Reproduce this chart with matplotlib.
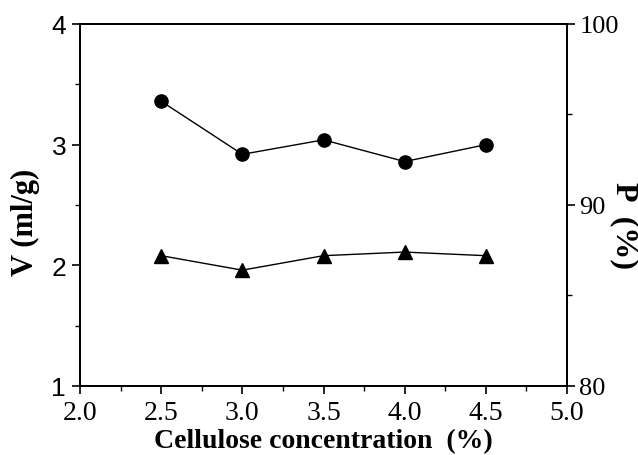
import matplotlib
matplotlib.use("Agg")
import matplotlib.pyplot as plt
from matplotlib.ticker import MultipleLocator

conc = [2.5, 3.0, 3.5, 4.0, 4.5]
V = [3.36, 2.92, 3.04, 2.86, 3.00]
P = [87.2, 86.4, 87.2, 87.4, 87.2]

x_ticks = [2.0, 2.5, 3.0, 3.5, 4.0, 4.5, 5.0]
x_labels = ["2.0", "2.5", "3.0", "3.5", "4.0", "4.5", "5.0"]
v_ticks = [1, 2, 3, 4]
p_ticks = [80, 90, 100]

serif = "Liberation Serif"
sans = "Liberation Sans"

fig = plt.figure(figsize=(6.38, 4.56), dpi=100)
ax = fig.add_axes([80/638, 1-387/456, (567-80)/638, (387-25)/456])
ax2 = ax.twinx()

ax.plot(conc, V, color="black", lw=1.0, marker="o", ms=9.5, zorder=3)
ax2.plot(conc, P, color="black", lw=1.0, marker="^", ms=10.5, zorder=3)

ax.set_xlim(2.0, 5.0)
ax.set_ylim(1, 4)
ax2.set_ylim(80, 100)

ax.set_xticks(x_ticks)
ax.set_xticklabels(x_labels)
ax.xaxis.set_minor_locator(MultipleLocator(0.25))
ax.set_yticks(v_ticks)
ax.set_yticklabels([str(t) for t in v_ticks])
ax.yaxis.set_minor_locator(MultipleLocator(0.5))
ax2.set_yticks(p_ticks)
ax2.set_yticklabels([str(t) for t in p_ticks])
ax2.yaxis.set_minor_locator(MultipleLocator(5))

ax.tick_params(axis="x", which="major", direction="out", length=6, width=1.2, pad=4,
               labelsize=20, labelfontfamily=serif)
ax.tick_params(axis="y", which="major", direction="out", length=6, width=1.2, pad=4,
               labelsize=19, labelfontfamily=sans)
ax.tick_params(axis="both", which="minor", direction="out", length=3.5, width=1.0)
ax2.tick_params(axis="y", which="major", direction="out", length=6, width=1.2, pad=3,
                labelsize=19, labelfontfamily=serif)
ax2.tick_params(axis="y", which="minor", direction="out", length=3.5, width=1.0)

for a in (ax, ax2):
    for s in a.spines.values():
        s.set_linewidth(1.3)

ax.set_xlabel("Cellulose concentration  (%)", fontfamily=serif, fontsize=20,
              fontweight="bold", labelpad=2)
ax.set_ylabel("V (ml/g)", fontfamily=serif, fontsize=22, fontweight="bold", va="center")
ax.yaxis.set_label_coords(-(80 - 25) / 487, 1 - (222 - 25) / 362)
ax2.set_ylabel("P  (%)", fontfamily=serif, fontsize=23, fontweight="bold", rotation=270,
               va="center")
ax2.yaxis.set_label_coords(1 + (624 - 567) / 487, 1 - (226 - 25) / 362)

fig.savefig("out.png", dpi=100)
